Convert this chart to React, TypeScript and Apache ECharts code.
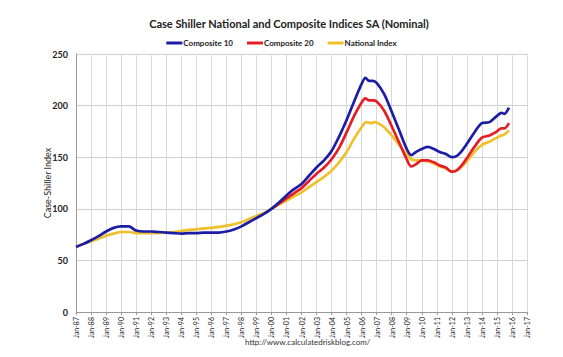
import React, { useEffect, useRef } from "react";
import * as echarts from "echarts";

const TITLE = "Case Shiller National and Composite Indices SA (Nominal)";
const SERIES_NAMES = ["Composite 10", "Composite 20", "National Index"];
const Y_TICKS = [0, 50, 100, 150, 200, 250];
const SOURCE = "http://www.calculatedriskblog.com/";

// [decimal year, index]
const composite10: [number, number][] = [
  [1987.0, 63], [1987.5, 66], [1988.0, 69.5], [1988.5, 73.5], [1989.0, 78], [1989.5, 81.5],
  [1990.0, 83], [1990.5, 83], [1991.0, 79], [1991.5, 78], [1992.0, 78], [1992.5, 77.5],
  [1993.0, 77], [1993.5, 76.5], [1994.0, 76], [1994.5, 76.5], [1995.0, 76.5], [1995.5, 77],
  [1996.0, 77], [1996.5, 77], [1997.0, 78], [1997.5, 80], [1998.0, 83], [1998.5, 87],
  [1999.0, 91], [1999.5, 95], [2000.0, 100], [2000.5, 106], [2001.0, 113], [2001.5, 119],
  [2002.0, 124], [2002.5, 132], [2003.0, 140], [2003.5, 147], [2004.0, 156], [2004.5, 170],
  [2005.0, 186], [2005.5, 204], [2006.0, 221], [2006.25, 227], [2006.5, 224], [2006.75, 224],
  [2007.0, 222], [2007.5, 211], [2008.0, 194], [2008.5, 176], [2009.0, 158], [2009.3, 152],
  [2009.6, 155], [2010.0, 158], [2010.4, 160], [2010.8, 158], [2011.2, 155], [2011.6, 153],
  [2012.0, 150], [2012.3, 151], [2012.6, 155], [2013.0, 163], [2013.5, 174], [2014.0, 183],
  [2014.5, 184], [2015.0, 190], [2015.3, 193], [2015.5, 192], [2015.8, 198],
];

const composite20: [number, number][] = [
  [2000.0, 100], [2000.5, 105], [2001.0, 110], [2001.5, 115], [2002.0, 120], [2002.5, 127],
  [2003.0, 134], [2003.5, 140], [2004.0, 148], [2004.5, 159], [2005.0, 174], [2005.5, 190],
  [2006.0, 203], [2006.25, 207], [2006.5, 205], [2006.75, 205], [2007.0, 204], [2007.5, 195],
  [2008.0, 180], [2008.5, 164], [2009.0, 148], [2009.3, 141], [2009.6, 143], [2010.0, 147],
  [2010.4, 147], [2010.8, 145], [2011.2, 142], [2011.6, 140], [2012.0, 136], [2012.3, 137],
  [2012.6, 141], [2013.0, 149], [2013.5, 160], [2014.0, 169], [2014.5, 171], [2015.0, 175],
  [2015.3, 178], [2015.5, 178], [2015.8, 183],
];

const nationalIndex: [number, number][] = [
  [1987.0, 63.5], [1987.5, 66], [1988.0, 68.5], [1988.5, 71], [1989.0, 74], [1989.5, 76],
  [1990.0, 77.5], [1990.5, 77.5], [1991.0, 76.5], [1991.5, 76.5], [1992.0, 76.5], [1992.5, 76.5],
  [1993.0, 77], [1993.5, 77.5], [1994.0, 78.5], [1994.5, 79.5], [1995.0, 80], [1995.5, 81],
  [1996.0, 81.5], [1996.5, 82.5], [1997.0, 83.5], [1997.5, 85], [1998.0, 87], [1998.5, 90],
  [1999.0, 93], [1999.5, 96], [2000.0, 100], [2000.5, 104], [2001.0, 108], [2001.5, 112],
  [2002.0, 116], [2002.5, 121], [2003.0, 126], [2003.5, 131], [2004.0, 137], [2004.5, 145],
  [2005.0, 155], [2005.5, 168], [2006.0, 179], [2006.3, 184], [2006.6, 183], [2006.9, 184],
  [2007.2, 182], [2007.5, 179], [2008.0, 171], [2008.5, 162], [2009.0, 153], [2009.3, 148],
  [2009.6, 147], [2010.0, 147], [2010.4, 146], [2010.8, 144], [2011.2, 141], [2011.6, 139],
  [2012.0, 136], [2012.3, 137], [2012.6, 140], [2013.0, 146], [2013.5, 155], [2014.0, 162],
  [2014.5, 165], [2015.0, 169], [2015.3, 171], [2015.5, 172], [2015.8, 176],
];

const COLORS = ["#1c1ca6", "#e41e24", "#f0c02c"];
const FONT = "Lato, 'Open Sans', sans-serif";

export default function App() {
  const ref = useRef<HTMLDivElement>(null);
  useEffect(() => {
    if (!ref.current) return;
    const chart = echarts.init(ref.current, undefined, { renderer: "svg" });
    const datasets = [composite10, composite20, nationalIndex];
    chart.setOption({
      animation: false,
      backgroundColor: "#ffffff",
      textStyle: { fontFamily: FONT },
      title: {
        text: TITLE,
        left: 284,
        top: 13,
        textAlign: "center",
        textStyle: { fontSize: 11, fontWeight: "bold", color: "#222", fontFamily: FONT },
      },
      legend: {
        data: SERIES_NAMES,
        top: 34,
        left: "center",
        icon: "rect",
        itemWidth: 16,
        itemHeight: 3,
        itemGap: 14,
        textStyle: { fontSize: 8, fontWeight: "bold", color: "#222", padding: [0, 0, 0, -4] },
      },
      grid: { left: 76, top: 54, right: 36, bottom: 45 },
      xAxis: {
        type: "value",
        min: 1987,
        max: 2017,
        interval: 1,
        axisLine: { lineStyle: { color: "#999" } },
        axisTick: { show: true, length: 3, lineStyle: { color: "#999" } },
        axisLabel: {
          rotate: 90,
          fontSize: 7,
          color: "#222",
          margin: 5,
          formatter: (v: number) => "Jan-" + String(Math.round(v) % 100).padStart(2, "0"),
        },
        splitLine: { show: true, lineStyle: { color: "#d9d9d9", width: 1 } },
      },
      yAxis: {
        type: "value",
        min: Y_TICKS[0],
        max: Y_TICKS[Y_TICKS.length - 1],
        interval: 50,
        name: "Case-Shiller Index",
        nameLocation: "middle",
        nameGap: 24,
        nameMoveOverlap: false,
        nameTextStyle: { fontSize: 9, color: "#222" },
        axisLine: { show: true, lineStyle: { color: "#999" } },
        axisTick: { show: false },
        axisLabel: { fontSize: 9, fontWeight: "bold", color: "#222", margin: 8 },
        splitLine: { show: true, lineStyle: { color: "#cfcfcf", width: 1 } },
      },
      graphic: [
        {
          type: "text",
          left: 245,
          top: 338,
          style: { text: SOURCE, fontSize: 8, fill: "#333", fontFamily: FONT },
        },
      ],
      series: SERIES_NAMES.map((name, i) => ({
        name,
        type: "line",
        data: datasets[i],
        showSymbol: false,
        smooth: 0.3,
        lineStyle: { width: 2.7, color: COLORS[i] },
        itemStyle: { color: COLORS[i] },
        z: 3 - i,
      })),
    });
    return () => chart.dispose();
  }, []);
  return (
    <div
      ref={ref}
      style={{ position: "fixed", left: 0, top: 0, width: 563, height: 357 }}
    />
  );
}
